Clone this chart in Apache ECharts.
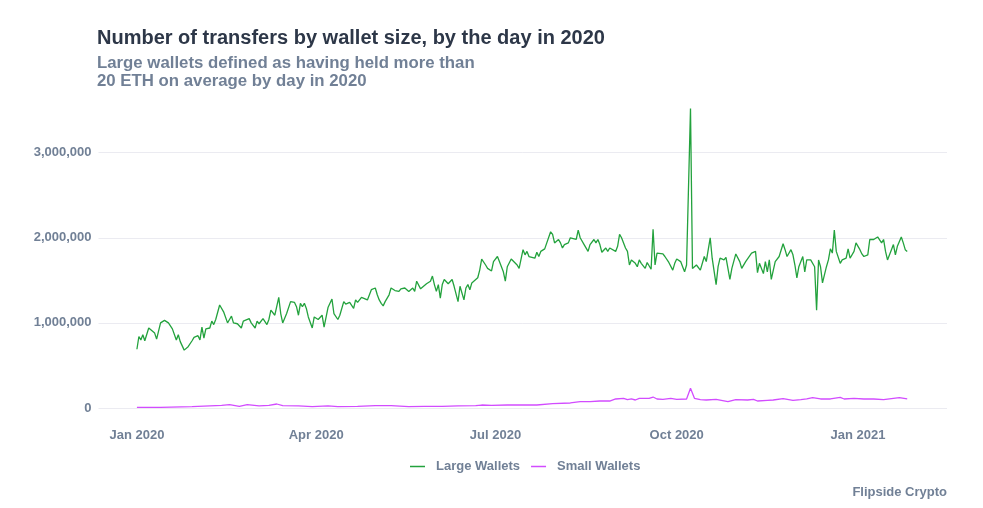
<!DOCTYPE html>
<html lang="en">
<head>
    <meta charset="UTF-8">
    <title>Number of transfers by wallet size</title>
    <script src="https://cdn.jsdelivr.net/npm/echarts@6.0.0/dist/echarts.min.js"></script>
    <style>
        html, body { margin: 0; padding: 0; background: #fff; }
    </style>
</head>
<body>
    <div id="main" style="width: 983px; height: 508px;"></div>
    <script>
        // x = days since 2020-01-01, values = thousands of transfers per day
        const largeDays = [0, 1, 2, 3, 4, 6, 7, 9, 10, 12, 14, 16, 18, 19, 20, 21, 22, 24, 26, 28, 29, 31, 32, 33, 34, 35, 37, 38, 39, 40,
            42, 44, 46, 47, 48, 49, 51, 53, 54, 55, 57, 58, 60, 61, 62, 64, 66, 67, 68, 70, 71, 72, 73, 74, 76, 77, 78, 80, 81, 82,
            83, 84, 85, 86, 87, 89, 90, 91, 92, 94, 95, 97, 98, 99, 100, 101, 102, 103, 105, 106, 108, 110, 111, 112, 113, 114, 115, 117, 118, 119,
            121, 122, 123, 124, 125, 126, 128, 129, 131, 132, 133, 134, 135, 136, 138, 139, 140, 141, 142, 144, 145, 147, 149, 150, 151, 152, 153, 154, 155, 156,
            158, 159, 160, 161, 162, 163, 164, 166, 167, 168, 169, 170, 171, 173, 174, 175, 177, 178, 179, 180, 181, 183, 184, 185, 186, 187, 188, 190, 191, 193,
            194, 196, 197, 198, 199, 200, 202, 203, 204, 205, 207, 208, 210, 211, 212, 214, 215, 216, 217, 219, 220, 221, 223, 224, 225, 227, 228, 229, 230, 232,
            233, 234, 235, 236, 238, 239, 240, 241, 243, 244, 245, 246, 248, 249, 250, 251, 253, 254, 255, 256, 258, 259, 260, 261, 262, 263, 264, 265, 267, 268,
            269, 270, 272, 273, 274, 276, 277, 278, 279, 280, 281, 282, 284, 286, 288, 289, 291, 292, 294, 295, 296, 298, 299, 301, 302, 304, 306, 307, 308, 309,
            310, 312, 313, 314, 315, 316, 317, 318, 319, 320, 321, 322, 324, 325, 326, 327, 328, 329, 330, 332, 333, 334, 335, 336, 338, 339, 340, 342, 343, 344,
            345, 346, 347, 348, 350, 351, 352, 353, 354, 355, 356, 357, 358, 360, 361, 362, 363, 364, 365, 367, 368, 369, 371, 372, 374, 376, 377, 378, 379, 380,
            381, 383, 384, 385, 386, 388, 389, 390, 391];
        const largeK = [690, 840, 800, 860, 790, 940, 960, 880, 810, 1000, 1030, 1000, 930, 910, 800, 860, 780, 680, 720, 790, 830, 850, 800, 950, 820, 930, 940, 1020, 980, 1040,
            1210, 1130, 1000, 1040, 1080, 1000, 990, 940, 1020, 1000, 1050, 1000, 940, 1020, 990, 1050, 980, 1040, 1150, 1090, 1070, 1300, 1110, 1000, 1110, 1130, 1250, 1240, 1190, 1090,
            1230, 1190, 1230, 1170, 1070, 940, 1070, 1090, 1040, 1090, 950, 1180, 1170, 1280, 1110, 1130, 1040, 1090, 1250, 1220, 1240, 1170, 1270, 1240, 1270, 1300, 1280, 1270, 1290, 1390,
            1410, 1330, 1270, 1230, 1200, 1250, 1330, 1410, 1380, 1390, 1370, 1400, 1380, 1410, 1370, 1360, 1410, 1370, 1490, 1400, 1380, 1460, 1490, 1550, 1450, 1370, 1450, 1290, 1450, 1510,
            1460, 1470, 1510, 1430, 1430, 1250, 1430, 1270, 1410, 1450, 1390, 1470, 1470, 1530, 1620, 1750, 1680, 1640, 1620, 1610, 1720, 1780, 1720, 1700, 1600, 1490, 1660, 1750, 1740, 1680,
            1640, 1860, 1800, 1840, 1780, 1800, 1760, 1830, 1780, 1840, 1870, 1880, 2070, 2040, 1940, 1980, 1940, 1880, 1920, 1940, 2000, 2010, 1980, 2090, 2000, 1920, 1940, 1840, 1920, 1980,
            1940, 1980, 1920, 1830, 1880, 1840, 1880, 1870, 1840, 1900, 2040, 2000, 1880, 1840, 1680, 1740, 1700, 1660, 1740, 1700, 1640, 1710, 1730, 1630, 2100, 1680, 1820, 1820, 1810, 1780,
            1770, 1710, 1620, 1700, 1750, 1720, 1660, 1600, 1680, 1680, 3520, 1640, 1680, 1620, 1780, 1720, 2000, 1760, 1450, 1660, 1760, 1740, 1770, 1510, 1640, 1810, 1720, 1640, 1660, 1720,
            1700, 1820, 1800, 1840, 1590, 1700, 1720, 1580, 1720, 1600, 1740, 1510, 1720, 1740, 1780, 1800, 1930, 1860, 1780, 1860, 1800, 1680, 1530, 1660, 1780, 1600, 1740, 1740, 1720, 1660,
            1150, 1740, 1660, 1470, 1660, 1740, 1870, 1820, 2090, 1840, 1860, 1700, 1740, 1760, 1870, 1760, 1780, 1840, 1940, 1860, 1810, 1780, 1800, 1980, 1980, 2010, 2000, 1940, 1980, 1840,
            1740, 1860, 1920, 1800, 1900, 2010, 1940, 1860, 1840];

        const smallDays = [0, 12, 13, 28, 43, 47, 52, 56, 62, 67, 71, 74, 82, 89, 97, 102, 112, 121, 129, 138, 146, 155, 163, 172, 175, 180, 188, 196, 203, 211,
            220, 225, 230, 235, 240, 243, 247, 249, 251, 253, 255, 260, 262, 264, 267, 271, 274, 279, 280, 281, 283, 286, 289, 294, 300, 304, 310, 313, 315, 320,
            323, 328, 333, 337, 340, 343, 347, 352, 357, 359, 364, 369, 374, 379, 384, 387, 391];
        const smallK = [8, 8, 20, 16, 31, 39, 20, 39, 24, 31, 47, 27, 24, 16, 24, 16, 20, 27, 27, 16, 20, 20, 24, 27, 35, 31, 35, 35, 35, 51,
            59, 74, 74, 82, 82, 106, 114, 98, 106, 94, 114, 114, 129, 106, 102, 114, 102, 106, 122, 232, 114, 98, 94, 102, 74, 98, 94, 102, 82, 90,
            94, 110, 90, 98, 106, 122, 106, 106, 125, 106, 114, 106, 106, 98, 114, 122, 106];

        const tickDays = [0, 91, 182, 274, 366];
        const tickLabels = ['Jan 2020', 'Apr 2020', 'Jul 2020', 'Oct 2020', 'Jan 2021'];
        const yTicks = [0, 1000000, 2000000, 3000000];

        const font = "'Liberation Sans', Arial, Helvetica, sans-serif";
        const labelGray = '#718096';
        const gridColor = '#ebebf1';

        function pairs(days, vals) {
            return days.map((d, i) => [d, vals[i] * 1000]);
        }
        function commas(v) {
            return String(v).replace(/\B(?=(\d{3})+(?!\d))/g, ',');
        }

        const chart = echarts.init(document.getElementById('main'), null, { renderer: 'canvas' });
        const option = {
            animation: false,
            backgroundColor: '#fff',
            title: {
                text: 'Number of transfers by wallet size, by the day in 2020',
                subtext: 'Large wallets defined as having held more than\n20 ETH on average by day in 2020',
                left: 97,
                top: 27,
                padding: 0,
                itemGap: 5,
                textStyle: { fontFamily: font, fontSize: 20, fontWeight: 'bold', color: '#2d3748', lineHeight: 22 },
                subtextStyle: { fontFamily: font, fontSize: 16.8, fontWeight: 'bold', color: labelGray, lineHeight: 18 }
            },
            legend: {
                left: 410,
                top: 460,
                padding: 0,
                icon: 'rect',
                itemWidth: 15,
                itemHeight: 1.5,
                itemGap: 11,
                textStyle: { fontFamily: font, fontSize: 13, fontWeight: 'bold', color: labelGray, padding: [0, 0, 0, 6] },
                data: ['Large Wallets', 'Small Wallets']
            },
            grid: { left: 98.5, right: 36, top: 101.6, bottom: 100, containLabel: false, outerBoundsMode: 'none' },
            xAxis: {
                type: 'value',
                min: -19.5,
                max: 411.2,
                axisLine: { show: false },
                axisTick: { show: false },
                splitLine: { show: false },
                axisLabel: {
                    customValues: tickDays,
                    margin: 21,
                    fontFamily: font,
                    fontSize: 13,
                    fontWeight: 'bold',
                    color: labelGray,
                    formatter: v => tickLabels[tickDays.indexOf(v)] || ''
                }
            },
            yAxis: {
                type: 'value',
                min: 0,
                max: 3600000,
                interval: 1000000,
                axisLine: { show: false },
                axisTick: { show: false },
                splitLine: { lineStyle: { color: [gridColor, gridColor, gridColor, gridColor, 'rgba(0,0,0,0)'], width: 1 } },
                axisLabel: {
                    showMaxLabel: false,
                    margin: 7,
                    fontFamily: font,
                    fontSize: 13,
                    fontWeight: 'bold',
                    color: labelGray,
                    formatter: v => yTicks.indexOf(v) >= 0 ? commas(v) : ''
                }
            },
            graphic: [{
                type: 'text',
                right: 36,
                top: 486,
                style: { text: 'Flipside Crypto', font: 'bold 13px ' + font, fill: labelGray }
            }],
            series: [{
                name: 'Large Wallets',
                type: 'line',
                symbol: 'none',
                data: pairs(largeDays, largeK),
                itemStyle: { color: '#23a23d' },
                lineStyle: { color: '#23a23d', width: 1.3 }
            }, {
                name: 'Small Wallets',
                type: 'line',
                symbol: 'none',
                data: pairs(smallDays, smallK),
                itemStyle: { color: '#d24cff' },
                lineStyle: { color: '#d24cff', width: 1.3 }
            }]
        };
        chart.setOption(option);
    </script>
</body>
</html>
